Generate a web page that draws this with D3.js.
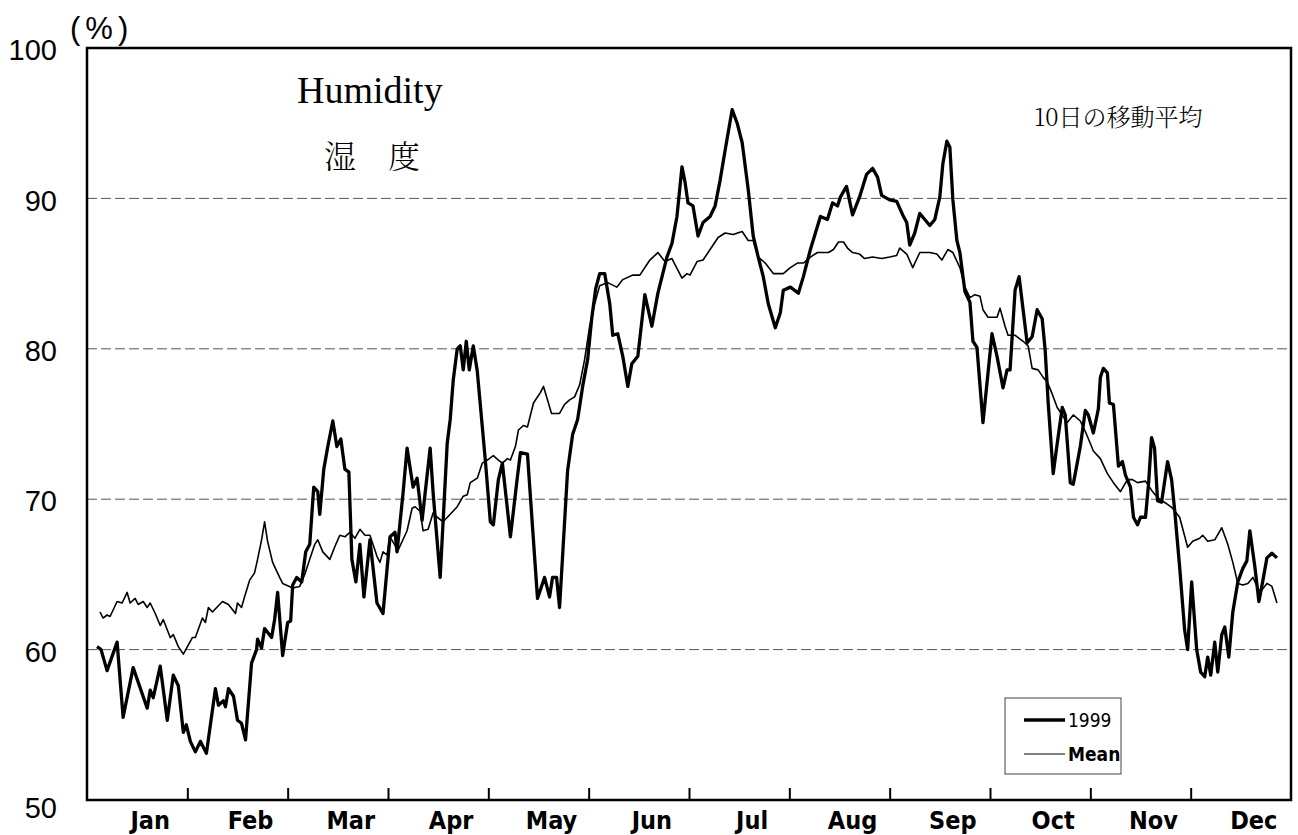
<!DOCTYPE html>
<html>
<head>
<meta charset="utf-8">
<script src="https://cdn.jsdelivr.net/npm/d3@7"></script>
<style>
  html, body { margin: 0; padding: 0; background: #fff; }
  svg { display: block; }
</style>
</head>
<body>
<div id="chart"></div>
<script>
// Humidity 1999 vs mean, 10-day moving average.
// Time is in month units: 0 = start of Jan, 12 = end of Dec (months drawn equal width).

const months = ["Jan", "Feb", "Mar", "Apr", "May", "Jun", "Jul", "Aug", "Sep", "Oct", "Nov", "Dec"];
const yTicks = [50, 60, 70, 80, 90, 100];
const gridValues = [60, 70, 80, 90];

const t1999 = [
  0.10, 0.14, 0.20, 0.30, 0.36, 0.46, 0.60, 0.63, 0.66, 0.73, 0.80, 0.86, 0.91, 0.96, 0.99,
  1.03, 1.08, 1.13, 1.19, 1.28, 1.31, 1.36, 1.38, 1.41, 1.46, 1.50, 1.54, 1.58, 1.64, 1.69,
  1.70, 1.74, 1.77, 1.84, 1.87, 1.90, 1.95, 2.00, 2.03, 2.05, 2.09, 2.14, 2.18, 2.22, 2.26,
  2.30, 2.32, 2.36, 2.40, 2.45, 2.49, 2.53, 2.57, 2.61, 2.64, 2.68, 2.72, 2.76, 2.82, 2.89,
  2.95, 3.02, 3.07, 3.09, 3.15, 3.19, 3.25, 3.29, 3.34, 3.37, 3.42, 3.45, 3.52, 3.59, 3.62,
  3.65, 3.69, 3.72, 3.75, 3.78, 3.81, 3.85, 3.89, 3.97, 4.02, 4.05, 4.10, 4.14, 4.22, 4.29,
  4.32, 4.39, 4.44, 4.49, 4.52, 4.56, 4.61, 4.64, 4.68, 4.71, 4.79, 4.84, 4.89, 4.94, 4.99,
  5.03, 5.07, 5.11, 5.16, 5.21, 5.24, 5.29, 5.34, 5.39, 5.43, 5.49, 5.56, 5.63, 5.69, 5.78,
  5.83, 5.88, 5.93, 5.96, 5.99, 6.04, 6.09, 6.14, 6.21, 6.26, 6.31, 6.36, 6.43, 6.48, 6.53,
  6.59, 6.64, 6.69, 6.74, 6.79, 6.86, 6.91, 6.94, 7.01, 7.09, 7.14, 7.21, 7.31, 7.38, 7.43,
  7.48, 7.51, 7.57, 7.63, 7.70, 7.77, 7.83, 7.88, 7.92, 8.00, 8.07, 8.13, 8.17, 8.20, 8.25,
  8.30, 8.35, 8.40, 8.45, 8.50, 8.53, 8.57, 8.60, 8.63, 8.67, 8.70, 8.75, 8.80, 8.83, 8.87,
  8.93, 9.02, 9.07, 9.13, 9.17, 9.20, 9.25, 9.29, 9.33, 9.37, 9.42, 9.47, 9.52, 9.55, 9.58,
  9.63, 9.67, 9.72, 9.75, 9.80, 9.83, 9.90, 9.95, 9.98, 10.03, 10.08, 10.10, 10.13, 10.17, 10.19,
  10.23, 10.28, 10.32, 10.35, 10.40, 10.43, 10.47, 10.50, 10.55, 10.58, 10.61, 10.64, 10.67, 10.71, 10.77,
  10.81, 10.84, 10.89, 10.94, 10.97, 11.01, 11.06, 11.10, 11.14, 11.17, 11.20, 11.24, 11.27, 11.31, 11.34,
  11.38, 11.42, 11.47, 11.52, 11.56, 11.59, 11.64, 11.68, 11.72, 11.76, 11.81, 11.86
];
const hum1999 = [
  60.2, 60.0, 58.6, 60.5, 55.5, 58.8, 56.1, 57.3, 56.8, 58.9, 55.3, 58.3, 57.6, 54.5, 55.0,
  53.9, 53.2, 53.9, 53.1, 57.4, 56.3, 56.6, 56.2, 57.4, 56.9, 55.3, 55.1, 54.0, 59.1, 60.0,
  60.7, 60.1, 61.4, 60.8, 62.0, 63.8, 59.6, 61.8, 61.9, 64.3, 64.8, 64.5, 66.5, 67.0, 70.8,
  70.5, 69.0, 72.0, 73.5, 75.2, 73.5, 74.0, 72.0, 71.8, 66.0, 64.5, 67.0, 63.5, 67.3, 63.1,
  62.4, 67.5, 67.8, 66.5, 70.4, 73.4, 70.8, 71.4, 68.6, 70.4, 73.4, 70.4, 64.8, 73.7, 75.3,
  77.9, 80.0, 80.2, 78.6, 80.5, 78.6, 80.2, 78.5, 72.6, 68.5, 68.3, 71.3, 72.4, 67.5, 71.5,
  73.1, 73.0, 68.2, 63.4, 64.0, 64.8, 63.5, 64.8, 64.8, 62.8, 71.9, 74.3, 75.3, 77.5, 79.3,
  82.0, 84.0, 85.0, 85.0, 83.0, 80.9, 81.0, 79.5, 77.5, 79.0, 79.5, 83.6, 81.5, 83.7, 86.1,
  87.0, 88.8, 92.1, 91.1, 89.7, 89.5, 87.5, 88.4, 88.8, 89.5, 91.2, 93.2, 95.9, 95.0, 93.7,
  90.6, 87.5, 86.1, 84.8, 83.0, 81.4, 82.4, 83.9, 84.1, 83.7, 84.8, 86.6, 88.8, 88.6, 89.7,
  89.5, 90.1, 90.8, 88.9, 90.1, 91.6, 92.0, 91.4, 90.2, 89.9, 89.8, 88.9, 88.4, 86.9, 87.7,
  89.0, 88.6, 88.2, 88.6, 90.1, 92.3, 93.8, 93.4, 89.9, 87.2, 86.4, 83.8, 83.1, 80.5, 80.1,
  75.1, 81.0, 79.5, 77.4, 78.6, 78.6, 83.9, 84.8, 82.6, 80.4, 80.8, 82.6, 82.0, 79.9, 76.4,
  71.7, 73.7, 76.1, 75.6, 71.1, 71.0, 73.5, 75.9, 75.6, 74.4, 76.0, 78.1, 78.7, 78.4, 76.4,
  76.3, 72.2, 72.5, 71.6, 70.8, 68.8, 68.3, 68.8, 68.8, 71.0, 74.1, 73.4, 69.9, 69.8, 72.5,
  71.3, 69.3, 65.5, 61.3, 60.0, 64.5, 60.0, 58.5, 58.2, 59.5, 58.3, 60.5, 58.5, 61.0, 61.5,
  59.5, 62.5, 64.5, 65.4, 65.9, 67.9, 65.5, 63.2, 64.6, 66.1, 66.4, 66.1
];

const tMean = [
  0.13, 0.16, 0.20, 0.23, 0.30, 0.35, 0.40, 0.43, 0.48, 0.51, 0.56, 0.60, 0.63, 0.68, 0.73,
  0.76, 0.83, 0.86, 0.91, 0.96, 1.05, 1.08, 1.15, 1.18, 1.21, 1.25, 1.35, 1.41, 1.48, 1.50,
  1.54, 1.57, 1.62, 1.67, 1.70, 1.74, 1.77, 1.80, 1.85, 1.92, 1.95, 2.05, 2.12, 2.17, 2.22,
  2.27, 2.30, 2.35, 2.42, 2.48, 2.52, 2.57, 2.62, 2.67, 2.72, 2.77, 2.82, 2.89, 2.92, 2.95,
  2.99, 3.02, 3.10, 3.19, 3.24, 3.27, 3.32, 3.35, 3.40, 3.45, 3.49, 3.55, 3.62, 3.69, 3.75,
  3.79, 3.82, 3.89, 3.94, 3.99, 4.05, 4.10, 4.14, 4.19, 4.22, 4.27, 4.30, 4.35, 4.39, 4.42,
  4.45, 4.52, 4.55, 4.63, 4.71, 4.76, 4.81, 4.86, 4.91, 4.96, 5.01, 5.06, 5.11, 5.19, 5.28,
  5.34, 5.44, 5.51, 5.61, 5.69, 5.76, 5.83, 5.93, 5.98, 6.01, 6.08, 6.14, 6.21, 6.26, 6.29,
  6.36, 6.44, 6.53, 6.59, 6.64, 6.69, 6.76, 6.84, 6.94, 7.01, 7.08, 7.14, 7.21, 7.28, 7.39,
  7.44, 7.49, 7.54, 7.58, 7.63, 7.70, 7.75, 7.83, 7.92, 8.00, 8.07, 8.10, 8.17, 8.23, 8.30,
  8.40, 8.47, 8.52, 8.58, 8.63, 8.70, 8.75, 8.80, 8.85, 8.90, 8.93, 8.98, 9.07, 9.10, 9.15,
  9.18, 9.25, 9.33, 9.38, 9.42, 9.48, 9.53, 9.57, 9.62, 9.67, 9.70, 9.77, 9.83, 9.90, 9.95,
  10.00, 10.03, 10.10, 10.17, 10.23, 10.30, 10.37, 10.42, 10.47, 10.55, 10.61, 10.67, 10.76, 10.82, 10.89,
  10.97, 11.02, 11.09, 11.12, 11.17, 11.24, 11.31, 11.37, 11.42, 11.47, 11.52, 11.57, 11.62, 11.69, 11.76,
  11.81, 11.86
];
const humMean = [
  62.5, 62.1, 62.3, 62.2, 63.2, 63.1, 63.8, 63.1, 63.4, 63.0, 63.2, 62.8, 63.1, 62.4, 61.6,
  62.0, 60.8, 61.0, 60.2, 59.7, 60.8, 60.8, 62.1, 61.8, 62.8, 62.5, 63.2, 63.0, 62.4, 63.1,
  62.8, 63.5, 64.6, 65.1, 66.0, 67.3, 68.5, 67.2, 65.8, 64.8, 64.4, 64.1, 64.2, 65.0, 66.0,
  67.0, 67.3, 66.5, 66.0, 67.0, 67.6, 67.5, 67.8, 67.4, 68.0, 67.6, 67.6, 66.2, 65.8, 66.5,
  66.3, 67.5, 66.6, 67.9, 69.4, 69.5, 69.2, 67.9, 68.0, 69.1, 68.8, 68.5, 69.0, 69.5, 70.2,
  70.3, 71.1, 71.4, 72.4, 72.6, 72.9, 72.6, 72.4, 72.7, 72.6, 73.5, 74.6, 74.9, 74.8, 75.6,
  76.4, 77.1, 77.5, 75.7, 75.7, 76.3, 76.6, 76.8, 77.6, 79.3, 81.5, 83.0, 84.2, 84.4, 84.1,
  84.6, 84.9, 84.9, 85.9, 86.4, 85.8, 86.0, 84.7, 85.0, 84.9, 85.8, 85.9, 86.6, 87.1, 87.4,
  87.7, 87.6, 87.8, 87.2, 87.2, 86.1, 85.7, 85.0, 85.0, 85.4, 85.7, 85.7, 86.1, 86.4, 86.4,
  86.6, 87.1, 87.1, 86.7, 86.4, 86.3, 86.0, 86.1, 86.0, 86.1, 86.2, 86.7, 86.3, 85.4, 86.4,
  86.4, 86.3, 85.9, 86.6, 86.4, 85.4, 84.1, 83.4, 83.6, 83.5, 82.6, 82.1, 82.1, 82.7, 81.5,
  80.9, 80.9, 80.5, 80.2, 78.7, 78.6, 78.1, 77.8, 77.0, 76.1, 75.8, 75.1, 75.6, 75.2, 74.5,
  73.7, 73.2, 72.7, 71.7, 71.1, 70.5, 71.3, 71.3, 71.1, 71.2, 70.6, 70.1, 69.7, 69.4, 68.8,
  66.8, 67.2, 67.4, 67.6, 67.2, 67.3, 68.1, 67.0, 65.8, 64.4, 64.3, 64.4, 64.8, 63.8, 64.4,
  64.2, 63.1
];

const width = 1298, height = 835;
const margin = { left: 87, right: 7, top: 48, bottom: 35 };
const innerW = width - margin.left - margin.right;
const innerH = height - margin.top - margin.bottom;

const svg = d3.select("#chart").append("svg")
  .attr("width", width)
  .attr("height", height);

const g = svg.append("g").attr("transform", `translate(${margin.left},${margin.top})`);

const x = d3.scaleLinear().domain([0, 12]).range([0, innerW]);
const y = d3.scaleLinear().domain([50, 100]).range([innerH, 0]);

// dashed gridlines
g.selectAll("line.grid")
  .data(gridValues)
  .join("line")
  .attr("class", "grid")
  .attr("x1", 0).attr("x2", innerW)
  .attr("y1", d => y(d)).attr("y2", d => y(d))
  .attr("stroke", "#555")
  .attr("stroke-width", 1)
  .attr("stroke-dasharray", "10,4");

// y labels (no tick marks)
const yAxis = g.append("g")
  .call(d3.axisLeft(y).tickValues(yTicks).tickSize(0).tickPadding(30).tickFormat(d3.format("d")));
yAxis.select(".domain").remove();
yAxis.selectAll("text")
  .attr("font-family", "'Liberation Sans', Arial, sans-serif")
  .attr("font-size", "29px")
  .attr("fill", "#000")
  .attr("dy", d => d === 50 ? "0.62em" : "0.4em");

// month boundary ticks, pointing inward
const xAxis = g.append("g")
  .attr("transform", `translate(0,${innerH})`)
  .call(d3.axisBottom(x).tickValues(d3.range(1, 12)).tickSize(-12).tickFormat(""));
xAxis.select(".domain").remove();
xAxis.selectAll("line").attr("stroke", "#000").attr("stroke-width", 2);

g.selectAll("text.month")
  .data(months)
  .join("text")
  .attr("class", "month")
  .attr("x", (d, i) => x(i + 0.5))
  .attr("dx", 13)
  .attr("y", innerH + 29)
  .attr("text-anchor", "middle")
  .attr("font-family", "'DejaVu Sans Condensed', 'Liberation Sans Narrow', sans-serif")
  .attr("font-weight", "bold")
  .attr("font-size", "25px")
  .text(d => d);

// series lines
const line = d3.line().x(d => x(d[0])).y(d => y(d[1]));
const meanPts = d3.zip(tMean, humMean);
const pts1999 = d3.zip(t1999, hum1999);

g.append("path")
  .datum(meanPts)
  .attr("fill", "none")
  .attr("stroke", "#000")
  .attr("stroke-width", 1.6)
  .attr("stroke-linejoin", "round")
  .attr("d", line);

g.append("path")
  .datum(pts1999)
  .attr("fill", "none")
  .attr("stroke", "#000")
  .attr("stroke-width", 3.3)
  .attr("stroke-linejoin", "round")
  .attr("d", line);

// frame
g.append("rect")
  .attr("x", 0).attr("y", 0)
  .attr("width", innerW).attr("height", innerH)
  .attr("fill", "none")
  .attr("stroke", "#000")
  .attr("stroke-width", 2.5);

// unit label
svg.append("text")
  .attr("x", 70).attr("y", 39)
  .attr("font-family", "'Liberation Sans', Arial, sans-serif")
  .attr("font-size", "31px")
  .attr("letter-spacing", "5px")
  .text("(%)");

// titles
svg.append("text")
  .attr("x", 297).attr("y", 103)
  .attr("font-family", "'Liberation Serif', 'Times New Roman', serif")
  .attr("font-size", "38px")
  .text("Humidity");

svg.append("text")
  .attr("x", 324).attr("y", 168)
  .attr("font-family", "'Noto Serif CJK JP', 'Noto Sans CJK JP', sans-serif")
  .attr("font-weight", 300)
  .attr("font-size", "32px")
  .text("湿　度");

svg.append("text")
  .attr("x", 1034).attr("y", 126)
  .attr("font-family", "'Noto Serif CJK JP', 'Noto Sans CJK JP', sans-serif")
  .attr("font-weight", 300)
  .attr("font-size", "24px")
  .text("10日の移動平均");

// legend
const legend = svg.append("g").attr("transform", "translate(1005,698)");
legend.append("rect")
  .attr("width", 116).attr("height", 76)
  .attr("fill", "#fff")
  .attr("stroke", "#444")
  .attr("stroke-width", 1);

const legendItems = [
  { label: "1999", w: 3.3, weight: "normal" },
  { label: "Mean", w: 1.2, weight: "bold" }
];
const li = legend.selectAll("g.item")
  .data(legendItems)
  .join("g")
  .attr("class", "item")
  .attr("transform", (d, i) => `translate(0,${22 + i * 34})`);
li.append("line")
  .attr("x1", 19).attr("x2", 60)
  .attr("stroke", "#000")
  .attr("stroke-width", d => d.w);
li.append("text")
  .attr("x", 63).attr("dy", "0.36em")
  .attr("font-family", "'DejaVu Sans Condensed', 'Liberation Sans Narrow', sans-serif")
  .attr("font-size", "19px")
  .attr("font-weight", d => d.weight)
  .text(d => d.label);
</script>
</body>
</html>
